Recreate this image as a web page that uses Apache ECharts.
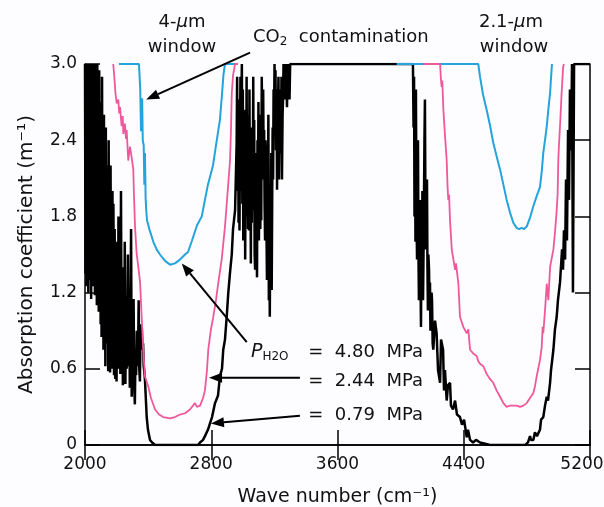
<!DOCTYPE html>
<html>
<head>
    <meta charset="UTF-8">
    <title>Absorption coefficient</title>
    <script src="https://cdn.jsdelivr.net/npm/echarts@6/dist/echarts.min.js"></script>
    <style>
        body, html { margin: 0; padding: 0; background: #fdfcfe; }
        #main { width: 604px; height: 507px; }
    </style>
</head>
<body>
<div id="main"></div>
<script>
    // tick values
    var xTicks = [2000, 2800, 3600, 4400, 5200];
    var yTicks = [0, 0.6, 1.2, 1.8, 2.4, 3.0];

    // P_H2O = 4.80 MPa (blue), [wave number, absorption]
    var p480 = [
        [2215, 3.0], [2342, 3.0], [2350, 2.80], [2355, 2.47], [2362, 2.73], [2366, 2.40], [2372, 2.36],
        [2376, 2.05], [2380, 2.30], [2384, 1.95], [2388, 1.85], [2393, 1.77], [2410, 1.69], [2433, 1.60],
        [2454, 1.54], [2475, 1.50], [2507, 1.45], [2539, 1.42], [2570, 1.43], [2602, 1.46], [2634, 1.50],
        [2653, 1.52], [2678, 1.61], [2710, 1.73], [2740, 1.80], [2760, 1.93], [2779, 2.05], [2811, 2.20],
        [2830, 2.36], [2855, 2.56], [2868, 2.76], [2877, 2.91], [2887, 3.0], [2963, 3.0],
        null,
        [3975, 3.0], [4492, 3.0], [4503, 2.90], [4522, 2.76], [4545, 2.64], [4566, 2.52], [4587, 2.38],
        [4611, 2.26], [4630, 2.17], [4651, 2.05], [4672, 1.93], [4693, 1.83], [4714, 1.75], [4735, 1.71],
        [4750, 1.70], [4767, 1.71], [4782, 1.70], [4799, 1.72], [4820, 1.79], [4841, 1.88], [4862, 1.96],
        [4883, 2.03], [4894, 2.15], [4904, 2.30], [4915, 2.40], [4926, 2.51], [4936, 2.64], [4947, 2.77],
        [4953, 2.89], [4959, 3.0]
    ];

    // P_H2O = 2.44 MPa (pink)
    var p244 = [
        [2179, 3.0], [2190, 2.83], [2193, 2.77], [2201, 2.69], [2211, 2.72], [2217, 2.61], [2222, 2.66],
        [2232, 2.51], [2239, 2.59], [2243, 2.45], [2253, 2.53], [2260, 2.41], [2264, 2.48], [2274, 2.24],
        [2285, 2.35], [2295, 2.27], [2306, 2.17], [2310, 1.98], [2317, 1.72], [2327, 1.51], [2338, 1.40],
        [2349, 1.28], [2359, 1.01], [2369, 0.75], [2380, 0.54], [2401, 0.46], [2418, 0.37], [2444, 0.28],
        [2469, 0.24], [2496, 0.22], [2539, 0.21], [2570, 0.22], [2602, 0.24], [2634, 0.25], [2665, 0.28],
        [2697, 0.33], [2710, 0.30], [2729, 0.31], [2748, 0.37], [2760, 0.43], [2773, 0.59], [2781, 0.75],
        [2798, 0.91], [2813, 1.01], [2830, 1.14], [2845, 1.28], [2866, 1.46], [2887, 1.72], [2900, 1.93],
        [2919, 2.24], [2925, 2.48], [2930, 2.77], [2938, 2.91], [2951, 3.0], [2970, 3.0],
        null,
        [4144, 3.0], [4250, 3.0], [4256, 2.87], [4260, 2.82], [4264, 2.87], [4271, 2.64], [4281, 2.44],
        [4292, 2.24], [4297, 2.05], [4302, 1.93], [4307, 1.97], [4313, 1.77], [4324, 1.54], [4345, 1.38],
        [4351, 1.43], [4366, 1.27], [4376, 1.01], [4397, 0.93], [4419, 0.88], [4429, 0.91], [4440, 0.75],
        [4461, 0.72], [4482, 0.70], [4492, 0.66], [4503, 0.64], [4524, 0.62], [4545, 0.56], [4566, 0.52],
        [4587, 0.49], [4608, 0.43], [4630, 0.38], [4651, 0.33], [4672, 0.30], [4693, 0.31], [4714, 0.31],
        [4735, 0.31], [4757, 0.30], [4778, 0.31], [4799, 0.33], [4820, 0.37], [4841, 0.41], [4851, 0.46],
        [4862, 0.54], [4872, 0.60], [4883, 0.67], [4894, 0.77], [4900, 0.93], [4904, 0.88], [4915, 1.06],
        [4926, 1.27], [4936, 1.14], [4947, 1.40], [4968, 1.54], [4978, 1.67], [4989, 1.85], [4995, 1.98],
        [4999, 2.24], [5004, 2.38], [5010, 2.51], [5020, 2.77], [5030, 2.98], [5035, 3.0]
    ];

    // P_H2O = 0.79 MPa (black)
    var p079 = [
        [2000, 3.0], [2003, 1.35], [2006, 3.0], [2009, 1.25], [2012, 2.9], [2015, 1.40], [2018, 3.0],
        [2021, 1.20], [2024, 2.7], [2027, 1.45], [2030, 3.0], [2033, 1.30], [2036, 2.85], [2039, 1.15],
        [2042, 3.0], [2045, 1.38], [2048, 2.6], [2051, 1.25], [2054, 3.0], [2057, 1.43], [2060, 2.9],
        [2063, 1.18], [2066, 3.0], [2069, 1.30], [2072, 2.75], [2075, 1.10], [2078, 3.0], [2081, 1.22],
        [2084, 2.5], [2087, 1.05], [2090, 2.95], [2093, 1.28], [2096, 2.7], [2099, 0.95], [2102, 2.4],
        [2105, 0.85], [2108, 2.9], [2111, 1.00], [2114, 2.3], [2117, 0.75], [2120, 2.6], [2123, 0.90],
        [2126, 2.0], [2129, 0.62], [2132, 2.5], [2135, 0.80], [2138, 2.2], [2141, 0.95], [2144, 1.9],
        [2147, 0.58], [2150, 2.4], [2153, 0.70], [2156, 2.0], [2159, 0.57], [2162, 2.2], [2165, 0.75],
        [2168, 1.8], [2171, 0.60], [2174, 2.0], [2177, 0.62], [2180, 1.9], [2184, 0.55], [2188, 1.7],
        [2192, 0.52], [2196, 1.6], [2200, 0.50], [2204, 1.4], [2208, 0.60], [2212, 1.8], [2216, 0.65],
        [2220, 1.2], [2224, 0.56], [2228, 2.0], [2232, 0.70], [2236, 1.4], [2240, 0.47], [2244, 1.2],
        [2248, 0.55], [2252, 1.6], [2256, 0.48], [2260, 1.1], [2264, 0.60], [2268, 0.95], [2272, 1.5],
        [2276, 0.62], [2280, 1.2], [2284, 0.45], [2288, 1.0], [2292, 1.7], [2296, 0.38], [2300, 0.85],
        [2304, 0.52], [2308, 1.15], [2312, 0.45], [2316, 0.32], [2320, 0.75], [2324, 0.55], [2328, 0.9],
        [2332, 0.62], [2336, 0.70], [2340, 1.14], [2344, 0.60], [2348, 0.50], [2352, 0.95], [2356, 0.85],
        [2360, 0.92], [2364, 0.75], [2368, 0.80], [2372, 0.62], [2376, 0.58], [2380, 0.51], [2391, 0.22],
        [2399, 0.12], [2412, 0.04], [2425, 0.02], [2444, 0], [2716, 0], [2729, 0.02], [2748, 0.04],
        [2760, 0.07], [2779, 0.12], [2792, 0.17], [2805, 0.22], [2824, 0.33], [2843, 0.39], [2855, 0.54],
        [2868, 0.60], [2876, 0.75], [2887, 0.83], [2898, 1.01], [2908, 1.20], [2919, 1.36], [2930, 1.50],
        [2938, 1.70], [2951, 1.85], [2961, 2.38], [2964, 2.9], [2967, 2.0], [2970, 2.72], [2973, 1.75],
        [2976, 2.6], [2979, 1.69], [2982, 2.4], [2985, 2.9], [2988, 2.0], [2991, 2.7], [2994, 3.0],
        [2997, 1.9], [3000, 2.8], [3003, 1.61], [3006, 2.5], [3009, 2.0], [3012, 2.64], [3015, 1.46],
        [3018, 2.4], [3021, 1.8], [3024, 2.9], [3027, 1.93], [3030, 2.6], [3033, 1.7], [3036, 2.56],
        [3039, 1.69], [3042, 2.8], [3045, 1.9], [3048, 2.24], [3051, 1.43], [3054, 2.5], [3057, 1.75],
        [3060, 2.40], [3063, 1.85], [3066, 2.9], [3069, 2.0], [3072, 2.56], [3075, 1.5], [3078, 1.38],
        [3081, 2.3], [3084, 2.09], [3087, 1.6], [3090, 1.32], [3093, 2.4], [3096, 1.93], [3099, 2.7],
        [3102, 1.61], [3105, 2.0], [3108, 2.32], [3111, 1.7], [3114, 2.6], [3117, 1.77], [3120, 2.9],
        [3123, 2.5], [3126, 2.09], [3129, 2.8], [3132, 2.2], [3135, 2.48], [3138, 1.9], [3141, 1.61],
        [3144, 2.4], [3147, 2.24], [3150, 1.7], [3153, 1.30], [3156, 2.2], [3159, 1.93], [3162, 2.6],
        [3165, 1.14], [3168, 1.6], [3171, 1.01], [3174, 1.8], [3177, 1.46], [3180, 2.3], [3183, 1.22],
        [3186, 1.9], [3189, 2.5], [3192, 2.09], [3195, 2.8], [3198, 2.56], [3201, 3.0], [3204, 2.5],
        [3207, 2.95], [3210, 2.32], [3214, 2.8], [3217, 2.01], [3220, 2.7], [3223, 2.64], [3226, 2.9],
        [3229, 2.09], [3233, 2.6], [3236, 2.80], [3239, 2.3], [3242, 2.32], [3245, 2.9], [3248, 2.09],
        [3252, 2.6], [3255, 2.72], [3258, 3.0], [3261, 2.95], [3264, 2.72], [3268, 3.0], [3272, 2.87],
        [3276, 2.95], [3280, 2.66], [3284, 3.0], [3288, 2.8], [3292, 3.0], [3296, 2.72], [3300, 3.0],
        [4078, 3.0], [4082, 2.5], [4085, 2.9], [4088, 1.8], [4091, 2.6], [4094, 1.6], [4097, 2.8],
        [4100, 1.9], [4104, 1.46], [4107, 2.2], [4110, 2.40], [4113, 1.5], [4116, 1.14], [4119, 1.7],
        [4123, 1.93], [4126, 1.3], [4129, 0.93], [4132, 1.6], [4135, 1.46], [4138, 2.0], [4142, 1.14],
        [4145, 1.5], [4148, 1.93], [4151, 2.4], [4154, 2.72], [4157, 1.9], [4161, 1.54], [4164, 1.8],
        [4167, 2.09], [4170, 1.4], [4173, 1.06], [4176, 1.5], [4180, 1.38], [4183, 1.1], [4186, 1.28],
        [4189, 0.9], [4192, 0.98], [4196, 1.2], [4199, 1.14], [4203, 0.8], [4207, 0.75], [4218, 0.98],
        [4228, 0.88], [4237, 0.59], [4250, 0.49], [4256, 0.83], [4269, 0.75], [4275, 0.43], [4281, 0.59],
        [4292, 0.35], [4300, 0.47], [4313, 0.49], [4319, 0.31], [4332, 0.28], [4345, 0.35], [4357, 0.24],
        [4376, 0.22], [4389, 0.16], [4402, 0.20], [4419, 0.06], [4427, 0.12], [4440, 0.04], [4459, 0.02],
        [4478, 0.04], [4503, 0.02], [4535, 0.01], [4566, 0], [4790, 0], [4799, 0.01], [4807, 0.02],
        [4820, 0.07], [4826, 0.04], [4841, 0.04], [4851, 0.10], [4864, 0.07], [4883, 0.12], [4890, 0.20],
        [4904, 0.22], [4915, 0.31], [4926, 0.38], [4934, 0.35], [4947, 0.49], [4953, 0.59], [4968, 0.75],
        [4978, 0.91], [4989, 1.01], [4997, 1.14], [5010, 1.28], [5023, 1.54], [5029, 1.38], [5035, 1.69],
        [5042, 1.46], [5048, 2.09], [5054, 1.61], [5061, 2.48], [5067, 1.93], [5073, 2.80], [5080, 2.32],
        [5086, 3.0], [5092, 1.20], [5099, 3.0], [5200, 3.0]
    ];

    // arrows: tail -> tip, in data units
    var arrows = [
        [[3046, 3.09], [2388, 2.72]],
        [[3025, 0.81], [2613, 1.43]],
        [[3362, 0.53], [2786, 0.53]],
        [[3362, 0.23], [2798, 0.17]]
    ];

    var FONT = 'DejaVu Sans';
    var chart = echarts.init(document.getElementById('main'));

    function xAx(pos, show) {
        return {
            type: 'value', position: pos, min: xTicks[0], max: xTicks[xTicks.length - 1], interval: 800,
            axisLine: {lineStyle: {color: '#000', width: 1.5}},
            axisTick: {inside: true, length: 15, lineStyle: {color: '#000', width: 1.5}},
            splitLine: {show: false},
            axisLabel: {
                show: show, color: '#111', fontFamily: FONT, fontSize: 17, margin: 11,
                formatter: function (v) { return v === 5200 ? '{r|5200}' : String(v); },
                rich: {r: {fontFamily: FONT, fontSize: 17, color: '#111', padding: [0, 16, 0, 0]}}
            },
            name: show ? 'Wave number (cm⁻¹)' : '',
            nameLocation: 'middle', nameGap: 43,
            nameTextStyle: {color: '#111', fontFamily: FONT, fontSize: 19}
        };
    }
    function yAx(pos, show) {
        return {
            type: 'value', position: pos, min: yTicks[0], max: yTicks[yTicks.length - 1], interval: 0.6,
            axisLine: {lineStyle: {color: '#000', width: 1.5}},
            axisTick: {inside: true, length: 15, lineStyle: {color: '#000', width: 1.5}},
            splitLine: {show: false},
            axisLabel: {
                show: show, color: '#111', fontFamily: FONT, fontSize: 17, margin: 8,
                formatter: function (v) { return v === 0 ? '0' : v.toFixed(1); }
            },
            name: show ? 'Absorption coefficient (m⁻¹)' : '',
            nameLocation: 'middle', nameGap: 48, nameRotate: 90,
            nameTextStyle: {color: '#111', fontFamily: FONT, fontSize: 20}
        };
    }

    var option = {
        backgroundColor: '#fdfcfe',
        animation: false,
        grid: {left: 85, right: 14, top: 64, bottom: 62, containLabel: false, outerBoundsMode: 'none'},
        xAxis: [xAx('bottom', true), xAx('top', false)],
        yAxis: [yAx('left', true), yAx('right', false)],
        series: [
            {type: 'line', data: p079, showSymbol: false, connectNulls: false, z: 3,
                lineStyle: {color: '#000', width: 2.5}},
            {type: 'line', data: p480, showSymbol: false, connectNulls: false, z: 4,
                lineStyle: {color: '#24a3dc', width: 2}},
            {type: 'line', data: p244, showSymbol: false, connectNulls: false, z: 5,
                lineStyle: {color: '#f0589c', width: 1.8}}
        ]
    };
    chart.setOption(option);

    function arrowShapes(a) {
        var p1 = chart.convertToPixel({gridIndex: 0}, a[0]);
        var p2 = chart.convertToPixel({gridIndex: 0}, a[1]);
        var dx = p2[0] - p1[0], dy = p2[1] - p1[1], len = Math.sqrt(dx * dx + dy * dy);
        var ux = dx / len, uy = dy / len, hl = 13, hw = 5;
        var bx = p2[0] - ux * hl, by = p2[1] - uy * hl;
        return [
            {type: 'line', z: 100, shape: {x1: p1[0], y1: p1[1], x2: bx, y2: by},
                style: {stroke: '#000', lineWidth: 2}},
            {type: 'polygon', z: 100,
                shape: {points: [[p2[0], p2[1]], [bx - uy * hw, by + ux * hw], [bx + uy * hw, by - ux * hw]]},
                style: {fill: '#000'}}
        ];
    }

    function label(x, y, text, align, rich) {
        return {
            type: 'text', x: x, y: y, z: 100,
            style: {
                text: text, fill: '#111', font: '18px "' + FONT + '"', align: align || 'center',
                verticalAlign: 'middle', rich: rich || {}
            }
        };
    }
    var richMu = {i: {fontFamily: FONT, fontSize: 18, fontStyle: 'italic', fill: '#111'}};
    var richSub = {
        s: {fontFamily: FONT, fontSize: 12, verticalAlign: 'bottom', fill: '#111', lineHeight: 16},
        n: {fontFamily: FONT, fontSize: 18, fill: '#111', lineHeight: 22},
        p: {fontFamily: FONT, fontSize: 19, fontStyle: 'italic', fill: '#111', lineHeight: 22}
    };

    var g = [];
    arrows.forEach(function (a) { g = g.concat(arrowShapes(a)); });
    g.push(label(182, 22, '4-{i|μ}m', 'center', richMu));
    g.push(label(182, 47, 'window'));
    g.push(label(253, 37, '{n|CO}{s|2}{n|  contamination}', 'left', richSub));
    g.push(label(511, 22, '2.1-{i|μ}m', 'center', richMu));
    g.push(label(514, 47, 'window'));
    g.push(label(251, 352, '{p|P}{s|H}{s|2}{s|O}', 'left', richSub));
    g.push(label(423, 352, '=  4.80  MPa', 'right'));
    g.push(label(423, 381, '=  2.44  MPa', 'right'));
    g.push(label(423, 415, '=  0.79  MPa', 'right'));
    chart.setOption({graphic: g});
</script>
</body>
</html>
